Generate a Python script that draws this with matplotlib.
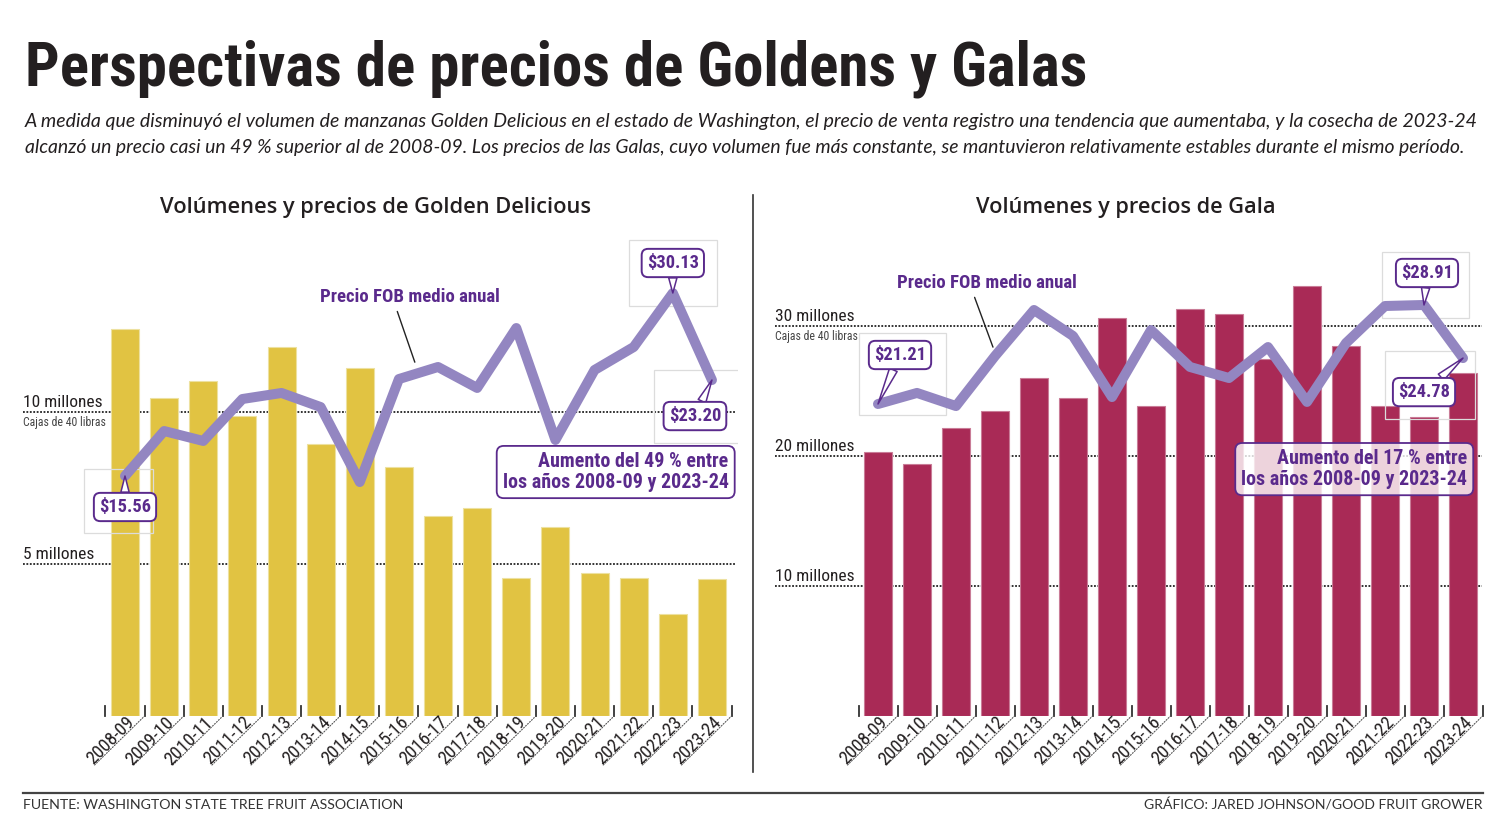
import matplotlib
matplotlib.use("Agg")
import matplotlib.pyplot as plt
import matplotlib.font_manager as fm
import matplotlib.transforms as mtrans
import matplotlib.text as mtext
from matplotlib.lines import Line2D
from matplotlib.patches import Rectangle

# ---------------- data ----------------
seasons = ['2008-09', '2009-10', '2010-11', '2011-12', '2012-13', '2013-14', '2014-15', '2015-16',
           '2016-17', '2017-18', '2018-19', '2019-20', '2020-21', '2021-22', '2022-23', '2023-24']
golden_vol = [12.73, 10.46, 11.02, 9.87, 12.14, 8.95, 11.45, 8.19,
              6.58, 6.84, 4.54, 6.22, 4.70, 4.54, 3.36, 4.51]          # millones de cajas
golden_price = [15.56, 19.14, 18.35, 21.69, 22.17, 21.05, 15.08, 23.28,
                24.24, 22.57, 27.34, 18.43, 24.00, 25.83, 30.13, 23.20]  # $ FOB
gala_vol = [20.31, 19.38, 22.15, 23.46, 26.00, 24.46, 30.62, 23.85,
            31.31, 30.92, 27.46, 33.08, 28.46, 23.85, 23.00, 26.38]
gala_price = [21.21, 22.07, 21.05, 24.94, 28.52, 26.50, 21.75, 26.96,
              24.09, 23.23, 25.64, 21.37, 25.95, 28.83, 28.91, 24.78]
golden_grid = [5, 10]
gala_grid = [10, 20, 30]
golden_callouts = {0: '$15.56', 14: '$30.13', 15: '$23.20'}
gala_callouts = {0: '$21.21', 14: '$28.91', 15: '$24.78'}

title = 'Perspectivas de precios de Goldens y Galas'
subtitle1 = ('A medida que disminuyó el volumen de manzanas Golden Delicious en el estado de Washington, '
             'el precio de venta registro una tendencia que aumentaba, y la cosecha de 2023-24')
subtitle2 = ('alcanzó un precio casi un 49 % superior al de 2008-09. Los precios de las Galas, cuyo volumen '
             'fue más constante, se mantuvieron relativamente estables durante el mismo período.')

# ---------------- style ----------------
YELLOW = '#E1C342'
MAROON = '#A92A56'
LINE = '#9386C1'
PURPLE = '#5A2A8C'
DARK = '#231F20'

W, H = 1500, 818
PT = 0.72  # points per pixel at dpi 100


def _w(f):
    w = f.weight
    if isinstance(w, str):
        w = fm.weight_dict.get(w, 400)
    return w


COND = [f for f in fm.fontManager.ttflist
        if str(f.stretch) in ('condensed', 'semi-condensed', 'extra-condensed', 'ultra-condensed')
        or 'Narrow' in f.name or 'Condensed' in f.name]


def pick_cond(weight, style='normal', fallback='Roboto'):
    cands = [f for f in COND if f.style == style]
    order = ['Noto Sans', 'Open Sans', 'Roboto Condensed', 'Roboto', 'Liberation Sans Narrow', 'DejaVu Sans']

    def key(f):
        fr = order.index(f.name) if f.name in order else len(order)
        fn = f.fname.lower()
        if 'extracondensed' in fn or 'ultracondensed' in fn or 'extra' in fn:
            sr = 2
        elif 'semicondensed' in fn or 'semi' in fn:
            sr = 1
        else:
            sr = 0
        fnl = fn.replace('_', '').replace('-', '')
        wt = _w(f)
        if 'light' in fnl and weight >= 400:
            wt = min(wt, 300)
        if 'bold' in fnl and 'semibold' not in fnl and 'extrabold' not in fnl:
            wt = max(wt, 700)
        return (abs(wt - weight) // 100, fr, sr)
    if cands:
        f = sorted(cands, key=key)[0]
        return lambda size: fm.FontProperties(fname=f.fname, size=size)
    return lambda size: fm.FontProperties(family=fallback, weight=weight, style=style, size=size)


F_BOLD = pick_cond(700)
F_REG = pick_cond(400)
F_SEMI = lambda size: fm.FontProperties(family='Open Sans', weight='semibold', size=size)
F_ITAL = lambda size: fm.FontProperties(family='Lato', style='italic', size=size)
F_FOOT = lambda size: fm.FontProperties(family='Lato', weight='normal', size=size)

fig = plt.figure(figsize=(W / 100, H / 100), dpi=100)
fig.patch.set_facecolor('white')

fits = []
rot_labels = []


def fx(px):
    return px / W


def fy(py):
    return (H - py) / H


# ---- title block ----
t = fig.text(fx(25), fy(86), title, fontproperties=F_BOLD(50), color=DARK, ha='left', va='baseline')
fits.append((t, 1062))
t = fig.text(fx(25), fy(127), subtitle1, fontproperties=F_ITAL(13), color=DARK, ha='left', va='baseline')
fits.append((t, 1446))
t = fig.text(fx(25), fy(153), subtitle2, fontproperties=F_ITAL(13), color=DARK, ha='left', va='baseline')
fits.append((t, 1441))

# panel titles
t = fig.text(fx(376), fy(213), 'Volúmenes y precios de Golden Delicious', fontproperties=F_SEMI(17),
             color=DARK, ha='center', va='baseline')
fits.append((t, 431))
t = fig.text(fx(1126), fy(213), 'Volúmenes y precios de Gala', fontproperties=F_SEMI(17),
             color=DARK, ha='center', va='baseline')
fits.append((t, 300))

# divider + footer rule
fig.add_artist(Line2D([fx(753), fx(753)], [fy(772), fy(195)], color='#333333', lw=1.2))
fig.add_artist(Line2D([fx(23), fx(1483)], [fy(793), fy(793)], color='#444444', lw=1.6))
t = fig.text(fx(23), fy(809), 'FUENTE: WASHINGTON STATE TREE FRUIT ASSOCIATION', fontproperties=F_FOOT(10),
             color='#333333', ha='left', va='baseline')
fits.append((t, 379))
t = fig.text(fx(1483), fy(809), 'GRÁFICO: JARED JOHNSON/GOOD FRUIT GROWER', fontproperties=F_FOOT(10),
             color='#333333', ha='right', va='baseline')
fits.append((t, 336))


def panel(left_px, width_px, center0_px, step_px, vol_per_px, price_ref, price_ref_px, px_per_dollar,
          vols, prices, color, edge, grid_vals, callouts, callout_offsets, frames, fob_xy, fob_tip, box_xy,
          box_text, box_alpha):
    top_px, base_px = 230, 716
    ax = fig.add_axes([fx(left_px), fy(base_px), width_px / W, (base_px - top_px) / H])
    ax.set_xlim((left_px - center0_px) / step_px, (left_px + width_px - center0_px) / step_px)
    ax.set_ylim(0, (base_px - top_px) * vol_per_px)
    ax.axis('off')
    n = len(seasons)
    xs = list(range(n))

    # dotted gridlines with labels
    for k, g in enumerate(grid_vals):
        ax.axhline(g, xmin=0, xmax=0.996, color='#222222', lw=1.3, ls=(0, (1, 0.9)),
                   dash_capstyle='butt', zorder=1)
        tt = ax.text(0, g, f'{g} millones', transform=mtrans.blended_transform_factory(ax.transAxes, ax.transData),
                     fontproperties=F_REG(13), color=DARK, ha='left', va='bottom', zorder=2)
        tt.set_transform(mtrans.offset_copy(tt.get_transform(), fig, x=0, y=2, units='dots'))
        fits.append((tt, 79 if g >= 10 else 71))
        if k == len(grid_vals) - 1:
            c = ax.text(0, g, 'Cajas de 40 libras',
                        transform=mtrans.offset_copy(
                            mtrans.blended_transform_factory(ax.transAxes, ax.transData), fig, x=0, y=-4,
                            units='dots'),
                        fontproperties=F_REG(9), color='#444444', ha='left', va='top', zorder=2)
            fits.append((c, 83))

    ax.bar(xs, vols, width=28 / step_px, color=color, edgecolor=edge, linewidth=0.8, zorder=3)

    # tick marks, labels and dotted diagonals
    xt = ax.get_xaxis_transform()
    for i in range(n + 1):
        ax.plot([i - 0.5, i - 0.5], [0, 10 / 486], transform=xt, color='#333333', lw=1.3,
                clip_on=False, zorder=3)
    for i, s in enumerate(seasons):
        ax.annotate('', xy=(i + 0.5, 0), xycoords='data', xytext=(-50 * PT, -49 * PT),
                    textcoords='offset points',
                    arrowprops=dict(arrowstyle='-', color='#555555', lw=0.8, linestyle=(0, (1, 1.5)),
                                    shrinkA=0, shrinkB=0), annotation_clip=False)
        tl = ax.text(i + 0.5, 0, s, transform=mtrans.offset_copy(ax.transData, fig, x=-9, y=-7, units='dots'),
                     rotation=0, rotation_mode='anchor', ha='right', va='baseline',
                     fontproperties=F_REG(11), color=DARK, clip_on=False)
        fits.append((tl, 60))
        rot_labels.append(tl)

    # price line
    ax2 = ax.twinx()
    ax2.set_xlim(ax.get_xlim())
    lo = price_ref - (base_px - price_ref_px) / px_per_dollar
    hi = price_ref + (price_ref_px - top_px) / px_per_dollar
    ax2.set_ylim(lo, hi)
    ax2.axis('off')
    ax2.plot(xs, prices, color=LINE, lw=10 * PT, solid_joinstyle='round', solid_capstyle='round', zorder=4)

    for idx, lab in callouts.items():
        # faint frame around each callout
        fl, fb, fw, fh = frames[idx]
        fr = Rectangle((fl, fb), fw, fh, fill=False, ec='#DCDCDC', lw=0.9, zorder=3.5,
                       transform=mtrans.Affine2D() + mtrans.ScaledTranslation(idx, prices[idx], ax2.transData))
        ax2.add_patch(fr)
        dx, dy = callout_offsets[idx]
        a = ax2.annotate(lab, xy=(idx, prices[idx]), xycoords='data', xytext=(dx * PT, dy * PT),
                         textcoords='offset points', ha='center', va='center',
                         fontproperties=F_BOLD(14), color=PURPLE, zorder=7,
                         bbox=dict(boxstyle='round,pad=0.28,rounding_size=0.35', fc='white', ec=PURPLE, lw=1.4),
                         arrowprops=dict(arrowstyle='wedge,tail_width=0.45,shrink_factor=0.5', fc='white',
                                         ec=PURPLE, lw=1.1, shrinkA=0, shrinkB=0))
        fits.append((a, 52))

    # "Precio FOB medio anual" label + leader
    fob = ax2.annotate('Precio FOB medio anual', xy=fob_tip, xycoords='axes fraction', xytext=fob_xy,
                       textcoords='axes fraction', ha='center', va='center', fontproperties=F_BOLD(14),
                       color=PURPLE, zorder=6,
                       arrowprops=dict(arrowstyle='-', color='#222222', lw=1.0, shrinkA=2, shrinkB=0,
                                       relpos=(0.42, 0.0)))
    fits.append((fob, 180))

    box = ax2.text(box_xy[0], box_xy[1], box_text, transform=ax2.transAxes, ha='right', va='center',
                   multialignment='right', linespacing=1.15, fontproperties=F_BOLD(15), color=PURPLE, zorder=8,
                   bbox=dict(boxstyle='round,pad=0.3,rounding_size=0.35', fc=(1, 1, 1, box_alpha),
                             ec=PURPLE, lw=1.3))
    fits.append((box, 226))
    return ax, ax2


panel(23, 715, 125, 39.13, 1 / 30.4, 15.56, 476, 12.56, golden_vol, golden_price, YELLOW, '#EDE1A0',
      golden_grid, golden_callouts, {0: (0, -31), 14: (0, 30), 15: (-17, -36)},
      {0: (-41, -57, 69, 64), 14: (-44, -13, 88, 66), 15: (-58, -63, 87, 73)},
      fob_xy=(0.541, 0.862), fob_tip=(0.548, 0.728), box_xy=(0.987, 0.502),
      box_text='Aumento del 49 % entre\nlos años 2008-09 y 2023-24', box_alpha=1.0)

panel(775, 710, 878, 39.0, 1 / 13.0, 21.21, 404, 12.86, gala_vol, gala_price, MAROON, '#C97C97',
      gala_grid, gala_callouts, {0: (22, 49), 14: (3, 32), 15: (-39, -34)},
      {0: (-19, -11, 87, 82), 14: (-42, -13, 87, 66), 15: (-78, -61, 90, 68)},
      fob_xy=(0.2986, 0.891), fob_tip=(0.307, 0.759), box_xy=(0.975, 0.508),
      box_text='Aumento del 17 % entre\nlos años 2008-09 y 2023-24', box_alpha=0.8)

# fit text widths to the reference layout (text extent only, unrotated)
renderer = fig.canvas.get_renderer()
for t, wpx in fits:
    bb = mtext.Text.get_window_extent(t, renderer)
    if bb.width > 0:
        t.set_fontsize(t.get_fontsize() * wpx / bb.width)
for t in rot_labels:
    t.set_rotation(45)

fig.savefig('out.png', dpi=100, facecolor='white')
